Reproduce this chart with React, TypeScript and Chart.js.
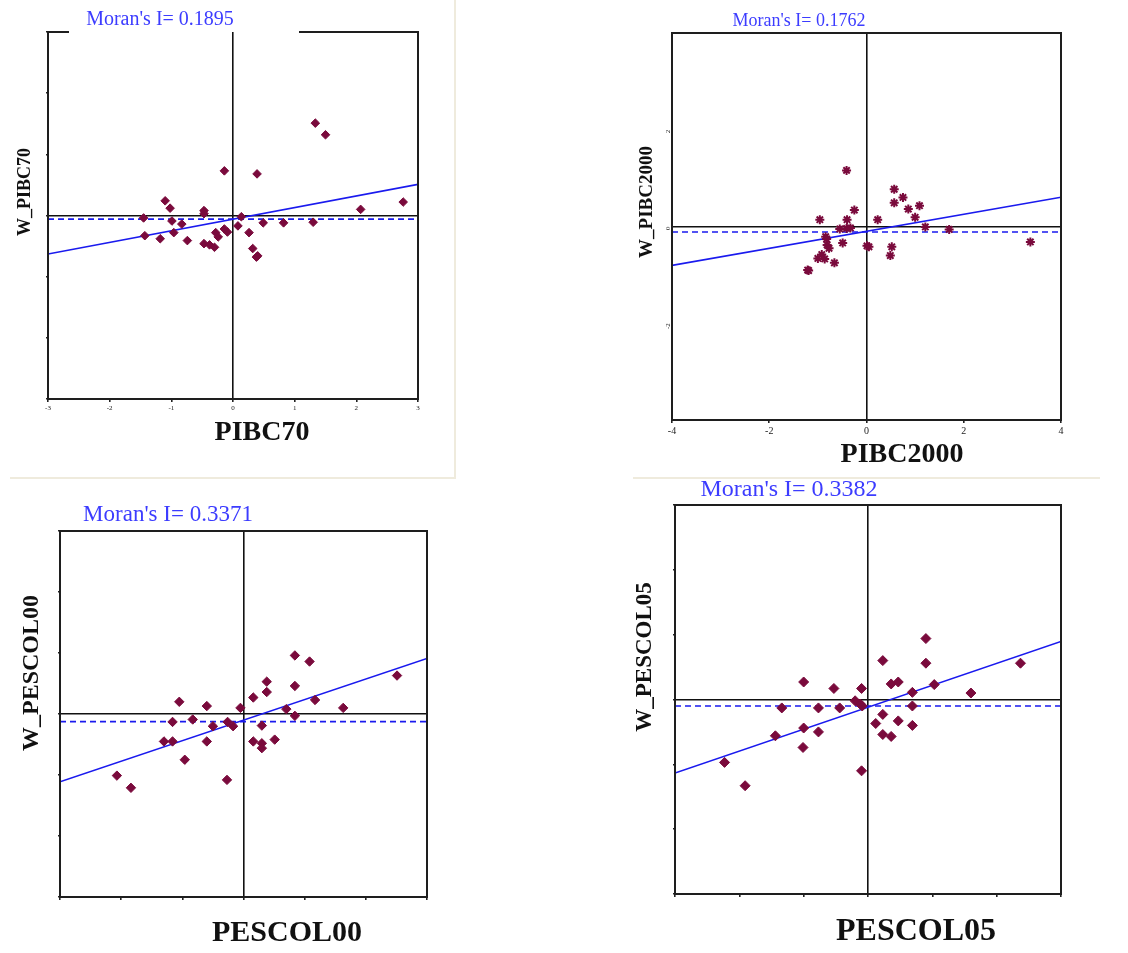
import React, { useEffect, useRef } from "react";
import { Chart, registerables } from "chart.js";

Chart.register(...registerables);

// ---------- DATA ----------
// Panel 1: PIBC70 vs W_PIBC70
const pibc70 = [1.335, 1.5, -0.14, 0.39, -1.1, -1.02, -0.47, -0.47, -1.45, -0.99, -0.83, 2.07, 2.76, 0.135, 0.08, 0.49, 0.82, 1.3, -1.43, -1.18, -0.96, -0.74, -0.47, -0.38, -0.3, -0.28, -0.24, -0.14, -0.09, 0.26, 0.32, 0.38, 0.4];
const wPibc70 = [1.51, 1.32, 0.73, 0.68, 0.24, 0.12, 0.08, 0.03, -0.04, -0.09, -0.14, 0.1, 0.22, -0.02, -0.17, -0.12, -0.12, -0.11, -0.33, -0.38, -0.28, -0.41, -0.46, -0.48, -0.52, -0.28, -0.35, -0.22, -0.27, -0.28, -0.54, -0.68, -0.66];
const moranPibc70 = 0.1895;
const interceptPibc70 = -0.06;
const meanWPibc70 = -0.06;

// Panel 2: PIBC2000 vs W_PIBC2000
const pibc2000 = [-0.41, 0.57, 0.75, 0.57, 0.86, 1.09, 1.0, 1.21, 1.7, 3.37, -0.25, 0.23, -0.96, -0.4, -0.55, -0.41, -0.33, -0.49, -0.84, -0.82, -0.81, -0.77, -0.92, -1.0, -0.86, -0.66, -1.21, -1.19, 0.01, 0.05, 0.52, 0.49];
const wPibc2000 = [1.16, 0.77, 0.6, 0.49, 0.36, 0.43, 0.19, -0.01, -0.06, -0.32, 0.34, 0.14, 0.14, 0.14, -0.05, -0.04, -0.03, -0.34, -0.21, -0.26, -0.38, -0.45, -0.58, -0.66, -0.67, -0.75, -0.9, -0.91, -0.4, -0.42, -0.42, -0.6];
const yLabelsPibc2000 = [-2, 0, 2];
const moranPibc2000 = 0.1762;
const interceptPibc2000 = -0.1;
const meanWPibc2000 = -0.115;

// Panel 3: PESCOL00 vs W_PESCOL00
const pescol00 = [0.84, 1.08, 2.51, 0.38, 0.38, 0.84, 0.16, 1.17, 1.63, 0.7, 0.84, -0.05, -1.05, -0.6, -1.16, -0.83, -0.5, -0.26, -0.17, -1.3, -1.16, -0.6, -0.96, -0.27, -2.07, -1.84, 0.16, 0.3, 0.3, 0.3, 0.51];
const wPescol00 = [0.96, 0.86, 0.63, 0.53, 0.36, 0.46, 0.27, 0.23, 0.1, 0.08, -0.03, 0.1, 0.2, 0.13, -0.13, -0.09, -0.2, -0.13, -0.2, -0.45, -0.45, -0.45, -0.75, -1.08, -1.01, -1.21, -0.45, -0.19, -0.48, -0.56, -0.42];
const moranPescol00 = 0.3371;
const interceptPescol00 = -0.1;
const meanWPescol00 = -0.125;

// Panel 4: PESCOL05 vs W_PESCOL05
const pescol05 = [0.9, 0.9, 0.23, 2.37, 0.36, 0.47, 1.03, 0.69, 1.6, 0.69, -1.0, -0.53, -0.1, -0.2, -0.12, -0.09, -1.34, -0.77, -0.44, 0.23, 0.12, 0.47, 0.69, 0.23, 0.36, -1.0, -0.77, -1.44, -1.01, -0.1, -2.23, -1.91];
const wPescol05 = [0.94, 0.56, 0.6, 0.56, 0.24, 0.27, 0.23, 0.11, 0.1, -0.1, 0.27, 0.17, 0.17, -0.02, -0.07, -0.1, -0.13, -0.13, -0.13, -0.23, -0.37, -0.33, -0.4, -0.54, -0.57, -0.44, -0.5, -0.56, -0.74, -1.1, -0.97, -1.33];
const moranPescol05 = 0.3382;
const interceptPescol05 = -0.12;
const meanWPescol05 = -0.1;

// ---------- STYLE ----------
const MARKER = "#7a0a3c";
const BLUE = "#1a1aee";
const TITLE_BLUE = "#3c3cff";
const SERIF = '"Liberation Serif", "Times New Roman", serif';

type PanelCfg = {
  key: string;
  left: number; top: number; width: number; height: number;
  yW: number; xH: number; padTop: number; padRight: number;
  range: number; step: number;
  xs: number[]; ys: number[];
  slope: number; intercept: number; mean: number;
  pointStyle: string; pointRadius: number; pointBorder: number;
  xLabels: boolean; xLabelSize: number;
  yLabels: boolean; yLabelSize: number; yLabelValues?: number[];
  tickLen: number; yTickLen: number;
  moranText: string; moranSize: number; moranX: number; moranY: number;
  xTitle: string; xTitleSize: number; xTitleX: number; xTitleY: number;
  yTitle: string; yTitleSize: number; yTitleX: number; yTitleY: number;
  gap?: [number, number];
};

const panels: PanelCfg[] = [
  {
    key: "p1", left: 0, top: 0, width: 460, height: 470,
    yW: 48, xH: 71, padTop: 32, padRight: 42,
    range: 3, step: 1, xs: pibc70, ys: wPibc70,
    slope: moranPibc70, intercept: interceptPibc70, mean: meanWPibc70,
    pointStyle: "rectRot", pointRadius: 4.3, pointBorder: 1,
    xLabels: true, xLabelSize: 7, yLabels: false, yLabelSize: 7,
    tickLen: 3, yTickLen: 2,
    moranText: "Moran's I= 0.1895", moranSize: 20, moranX: 160, moranY: 20,
    xTitle: "PIBC70", xTitleSize: 28, xTitleX: 262, xTitleY: 433,
    yTitle: "W_PIBC70", yTitleSize: 18, yTitleX: 25, yTitleY: 192,
    gap: [68, 300],
  },
  {
    key: "p2", left: 600, top: 0, width: 480, height: 470,
    yW: 72, xH: 50, padTop: 33, padRight: 19,
    range: 4, step: 2, xs: pibc2000, ys: wPibc2000,
    slope: moranPibc2000, intercept: interceptPibc2000, mean: meanWPibc2000,
    pointStyle: "star", pointRadius: 4.5, pointBorder: 2,
    xLabels: true, xLabelSize: 10, yLabels: true, yLabelSize: 7, yLabelValues: yLabelsPibc2000,
    tickLen: 3, yTickLen: 0,
    moranText: "Moran's I= 0.1762", moranSize: 18, moranX: 799, moranY: 21,
    xTitle: "PIBC2000", xTitleSize: 28, xTitleX: 902, xTitleY: 455,
    yTitle: "W_PIBC2000", yTitleSize: 19, yTitleX: 647, yTitleY: 202,
  },
  {
    key: "p3", left: 0, top: 480, width: 460, height: 473,
    yW: 60, xH: 56, padTop: 51, padRight: 33,
    range: 3, step: 1, xs: pescol00, ys: wPescol00,
    slope: moranPescol00, intercept: interceptPescol00, mean: meanWPescol00,
    pointStyle: "rectRot", pointRadius: 4.7, pointBorder: 1,
    xLabels: false, xLabelSize: 7, yLabels: false, yLabelSize: 7,
    tickLen: 3, yTickLen: 2,
    moranText: "Moran's I= 0.3371", moranSize: 23, moranX: 168, moranY: 515,
    xTitle: "PESCOL00", xTitleSize: 30, xTitleX: 287, xTitleY: 933,
    yTitle: "W_PESCOL00", yTitleSize: 24, yTitleX: 32, yTitleY: 673,
  },
  {
    key: "p4", left: 600, top: 480, width: 480, height: 473,
    yW: 75, xH: 59, padTop: 25, padRight: 19,
    range: 3, step: 1, xs: pescol05, ys: wPescol05,
    slope: moranPescol05, intercept: interceptPescol05, mean: meanWPescol05,
    pointStyle: "rectRot", pointRadius: 5, pointBorder: 1,
    xLabels: false, xLabelSize: 7, yLabels: false, yLabelSize: 7,
    tickLen: 3, yTickLen: 2,
    moranText: "Moran's I= 0.3382", moranSize: 24, moranX: 789, moranY: 490,
    xTitle: "PESCOL05", xTitleSize: 32, xTitleX: 916, xTitleY: 932,
    yTitle: "W_PESCOL05", yTitleSize: 23, yTitleX: 645, yTitleY: 657,
  },
];

function zeroGrid(tickLen: number) {
  return {
    color: (c: any) => (c.tick && c.tick.value === 0 ? "#111" : "rgba(0,0,0,0)"),
    lineWidth: 1.6,
    drawTicks: tickLen > 0,
    tickLength: tickLen,
    tickColor: "#222",
    tickWidth: 1.6,
  };
}

function Panel({ cfg }: { cfg: PanelCfg }) {
  const ref = useRef<HTMLCanvasElement | null>(null);
  useEffect(() => {
    if (!ref.current) return;
    const r = cfg.range;
    const points = cfg.xs.map((x, i) => ({ x, y: cfg.ys[i] }));
    const fit = [-r, r].map((x) => ({ x, y: cfg.intercept + cfg.slope * x }));
    const meanLine = [-r, r].map((x) => ({ x, y: cfg.mean }));

    const decor = {
      id: "decor-" + cfg.key,
      afterDraw(chart: any) {
        const { ctx, chartArea: a } = chart;
        ctx.save();
        ctx.strokeStyle = "#1e1e1e";
        ctx.lineWidth = 2;
        ctx.lineCap = "square";
        ctx.beginPath();
        ctx.moveTo(a.left, a.bottom);
        ctx.lineTo(a.left, a.top);
        if (cfg.gap) {
          ctx.lineTo(cfg.gap[0] - cfg.left, a.top);
          ctx.moveTo(cfg.gap[1] - cfg.left, a.top);
        }
        ctx.lineTo(a.right, a.top);
        ctx.lineTo(a.right, a.bottom);
        ctx.lineTo(a.left, a.bottom);
        ctx.stroke();

        ctx.fillStyle = TITLE_BLUE;
        ctx.font = `${cfg.moranSize}px ${SERIF}`;
        ctx.textAlign = "center";
        ctx.textBaseline = "middle";
        ctx.fillText(cfg.moranText, cfg.moranX - cfg.left, cfg.moranY - cfg.top);

        ctx.fillStyle = "#111";
        ctx.font = `bold ${cfg.xTitleSize}px ${SERIF}`;
        ctx.fillText(cfg.xTitle, cfg.xTitleX - cfg.left, cfg.xTitleY - cfg.top);

        ctx.font = `bold ${cfg.yTitleSize}px ${SERIF}`;
        ctx.translate(cfg.yTitleX - cfg.left, cfg.yTitleY - cfg.top);
        ctx.rotate(-Math.PI / 2);
        ctx.fillText(cfg.yTitle, 0, 0);
        ctx.restore();
      },
    };

    const yLabelValues = cfg.yLabelValues;
    const chart = new Chart(ref.current, {
      type: "scatter",
      data: {
        datasets: [
          {
            label: cfg.yTitle,
            data: points,
            pointStyle: cfg.pointStyle as any,
            pointRadius: cfg.pointRadius,
            pointBorderWidth: cfg.pointBorder,
            backgroundColor: MARKER,
            borderColor: MARKER,
            showLine: false,
          },
          {
            label: "fit",
            type: "line",
            data: fit,
            borderColor: BLUE,
            borderWidth: 1.6,
            pointRadius: 0,
            fill: false,
          } as any,
          {
            label: "mean",
            type: "line",
            data: meanLine,
            borderColor: BLUE,
            borderWidth: 1.6,
            borderDash: [6, 4],
            pointRadius: 0,
            fill: false,
          } as any,
        ],
      },
      options: {
        responsive: false,
        animation: false,
        devicePixelRatio: 1,
        layout: { padding: { top: cfg.padTop, right: cfg.padRight, left: 0, bottom: 0 } },
        plugins: { legend: { display: false }, tooltip: { enabled: false } },
        scales: {
          x: {
            type: "linear",
            min: -r,
            max: r,
            border: { display: false },
            grid: zeroGrid(cfg.tickLen) as any,
            ticks: {
              stepSize: cfg.step,
              display: cfg.xLabels,
              font: { family: SERIF, size: cfg.xLabelSize },
              color: "#222",
              padding: 2,
              maxRotation: 0,
              minRotation: 0,
            },
            afterFit: (s: any) => { s.height = cfg.xH; },
          },
          y: {
            type: "linear",
            min: -r,
            max: r,
            border: { display: false },
            grid: zeroGrid(cfg.yTickLen) as any,
            ticks: {
              stepSize: cfg.step,
              display: cfg.yLabels,
              font: { family: SERIF, size: cfg.yLabelSize },
              color: "#222",
              padding: 4,
              minRotation: 90,
              maxRotation: 90,
              callback: (v: any) =>
                !yLabelValues || yLabelValues.includes(Number(v)) ? String(v) : "",
            },
            afterFit: (s: any) => { s.width = cfg.yW; },
          },
        },
      },
      plugins: [decor],
    });
    return () => chart.destroy();
  }, [cfg]);

  return (
    <canvas
      ref={ref}
      width={cfg.width}
      height={cfg.height}
      style={{ position: "absolute", left: cfg.left, top: cfg.top, width: cfg.width, height: cfg.height }}
    />
  );
}

export default function App() {
  const beige = "#efebdd";
  return (
    <div style={{ position: "absolute", left: 0, top: 0, width: 1128, height: 953, background: "#fff", overflow: "hidden" }}>
      <div style={{ position: "absolute", left: 454, top: 0, width: 2, height: 479, background: beige }} />
      <div style={{ position: "absolute", left: 10, top: 477, width: 446, height: 2, background: beige }} />
      <div style={{ position: "absolute", left: 633, top: 477, width: 467, height: 2, background: beige }} />
      {panels.map((p) => (
        <Panel key={p.key} cfg={p} />
      ))}
    </div>
  );
}
